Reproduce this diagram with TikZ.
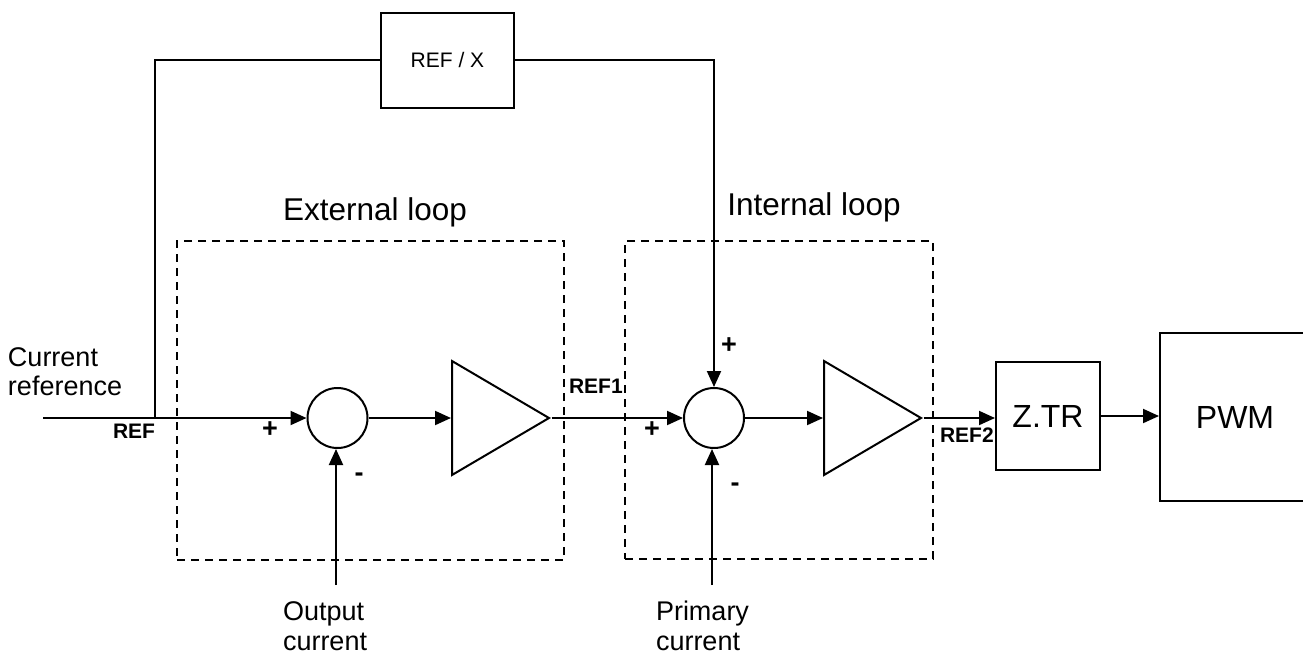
\documentclass[tikz,border=0pt]{standalone}
\usepackage{fontspec}
\setmainfont{Liberation Sans}
\usetikzlibrary{shapes.geometric,arrows.meta}
\newcommand{\pxUnit}[0]{0.5pt}
\newcommand{\fsize}[2]{\fontsize{#1}{#2}\selectfont}

\begin{document}
\begin{tikzpicture}[x=\pxUnit, y=-\pxUnit, line width=1pt]
  \tikzset{
    block/.style={draw, rectangle, inner sep=0pt},
    sum/.style={draw, circle, minimum size=30pt, inner sep=0pt},
    amp/.style={draw, isosceles triangle, isosceles triangle stretches,
      minimum width=57pt, minimum height=48.5pt, inner sep=0pt, anchor=lower side},
    loopbox/.style={draw, rectangle, dash pattern=on 4pt off 3pt, line width=0.8pt, inner sep=0pt},
    txt/.style={font=\fsize{13.5}{14.5}, inner sep=0pt, align=left},
    sig/.style={font=\bfseries\fsize{10.5}{12}, inner sep=0pt},
    pm/.style={font=\bfseries\fsize{13.5}{14}, inner sep=0pt},
    arr/.style={-{Triangle[length=8pt,width=7pt]}}
  }
  \useasboundingbox (0,0) rectangle (1303,655);

  \node[loopbox, minimum width=193.5pt, minimum height=159.5pt] (extloop) at (370.5,400.5) {};
  \node[loopbox, minimum width=154pt, minimum height=159pt] (intloop) at (779,400) {};
  \node[anchor=base, font=\fsize{15.75}{18}, inner sep=0pt] (exttitle) at (375,220) {External loop};
  \node[anchor=base, font=\fsize{15.75}{18}, inner sep=0pt] (inttitle) at (814,215) {Internal loop};

  \node[sum] (sum1) at (337.5,418) {};
  \node[amp] (amp1) at (451,418) {};
  \node[sum] (sum2) at (714,418) {};
  \node[amp] (amp2) at (823,418) {};
  \node[block, minimum width=52pt, minimum height=54pt, font=\fsize{16}{18}] (ztr) at (1048,416) {Z.TR};
  \node[block, minimum width=75pt, minimum height=84pt, font=\fsize{16}{18}] (pwm) at (1235,417) {PWM};
  \node[block, minimum width=66.5pt, minimum height=47.5pt, font=\fsize{10.5}{12}] (refx) at (447.5,60) {REF / X};

  \coordinate (in) at (43,418);
  \coordinate (ref) at (155,418);
  \coordinate (iout) at (336,585);
  \coordinate (iprim) at (712,585);

  \draw[arr] (in) -- (sum1);
  \draw[arr] (sum1) -- (amp1.lower side);
  \draw[arr] (amp1.apex) -- (sum2);
  \draw[arr] (sum2) -- (amp2.lower side);
  \draw[arr] (amp2.apex) -- (amp2.apex -| ztr.west);
  \draw[arr] (ztr.east) -- (ztr.east -| pwm.west);
  \draw (ref) |- (refx);
  \draw[arr] (refx) -| (sum2);
  \draw[arr] (iout) -- (iout |- sum1.south);
  \draw[arr] (iprim) -- (iprim |- sum2.south);

  \node[txt, anchor=west] (curref) at (7,371.5) {Current\\reference};
  \node[txt, anchor=west, font=\fsize{13.5}{15}] (outcur) at (282,626) {Output\\current};
  \node[txt, anchor=west, font=\fsize{13.5}{15}] (primcur) at (655,626) {Primary\\current};
  \node[sig, anchor=base west] (reflbl) at (112,438) {REF};
  \node[sig, anchor=base west] (ref1lbl) at (568,393) {REF1};
  \node[sig, anchor=base west] (ref2lbl) at (939,442) {REF2};
  \node[pm] (plus1) at (270,430) {+};
  \node[pm] (minus1) at (359,477) {-};
  \node[pm] (plus2) at (652,430) {+};
  \node[pm] (plus3) at (729,346) {+};
  \node[pm] (minus2) at (735,487) {-};
\end{tikzpicture}
\end{document}
